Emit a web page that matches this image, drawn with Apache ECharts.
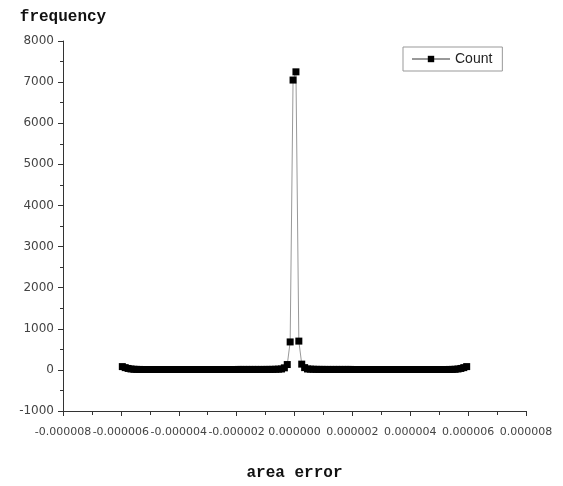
<!DOCTYPE html>
<html>
<head>
<meta charset="utf-8">
<script src="https://cdn.jsdelivr.net/npm/echarts@6/dist/echarts.min.js"></script>
<style>
  html, body { margin: 0; padding: 0; background: #fff; }
  #chart { width: 563px; height: 486px; }
</style>
</head>
<body>
<div id="chart"></div>
<script>
// bin centres of the area error histogram
var areaError = [
    -5.95e-6, -5.85e-6, -5.75e-6, -5.65e-6, -5.55e-6, -5.45e-6, -5.35e-6, -5.25e-6, -5.15e-6, -5.05e-6,
    -4.95e-6, -4.85e-6, -4.75e-6, -4.65e-6, -4.55e-6, -4.45e-6, -4.35e-6, -4.25e-6, -4.15e-6, -4.05e-6,
    -3.95e-6, -3.85e-6, -3.75e-6, -3.65e-6, -3.55e-6, -3.45e-6, -3.35e-6, -3.25e-6, -3.15e-6, -3.05e-6,
    -2.95e-6, -2.85e-6, -2.75e-6, -2.65e-6, -2.55e-6, -2.45e-6, -2.35e-6, -2.25e-6, -2.15e-6, -2.05e-6,
    -1.95e-6, -1.85e-6, -1.75e-6, -1.65e-6, -1.55e-6, -1.45e-6, -1.35e-6, -1.25e-6, -1.15e-6, -1.05e-6,
    -0.95e-6, -0.85e-6, -0.75e-6, -0.65e-6, -0.55e-6, -0.45e-6, -0.35e-6, -0.25e-6, -0.15e-6, -0.05e-6,
    0.05e-6, 0.15e-6, 0.25e-6, 0.35e-6, 0.45e-6, 0.55e-6, 0.65e-6, 0.75e-6, 0.85e-6, 0.95e-6,
    1.05e-6, 1.15e-6, 1.25e-6, 1.35e-6, 1.45e-6, 1.55e-6, 1.65e-6, 1.75e-6, 1.85e-6, 1.95e-6,
    2.05e-6, 2.15e-6, 2.25e-6, 2.35e-6, 2.45e-6, 2.55e-6, 2.65e-6, 2.75e-6, 2.85e-6, 2.95e-6,
    3.05e-6, 3.15e-6, 3.25e-6, 3.35e-6, 3.45e-6, 3.55e-6, 3.65e-6, 3.75e-6, 3.85e-6, 3.95e-6,
    4.05e-6, 4.15e-6, 4.25e-6, 4.35e-6, 4.45e-6, 4.55e-6, 4.65e-6, 4.75e-6, 4.85e-6, 4.95e-6,
    5.05e-6, 5.15e-6, 5.25e-6, 5.35e-6, 5.45e-6, 5.55e-6, 5.65e-6, 5.75e-6, 5.85e-6, 5.95e-6
];

var count = [
    80, 55, 35, 22, 15, 12, 11, 10, 10, 10,
    10, 10, 10, 10, 10, 10, 10, 10, 10, 10,
    10, 10, 10, 10, 10, 10, 10, 10, 10, 10,
    10, 10, 10, 10, 10, 10, 10, 10, 10, 10,
    11, 11, 11, 11, 11, 11, 11, 11, 11, 11,
    12, 12, 13, 15, 18, 22, 50, 130, 680, 7050,
    7250, 700, 140, 55, 22, 18, 15, 13, 12, 12,
    11, 11, 11, 11, 11, 11, 11, 11, 11, 11,
    10, 10, 10, 10, 10, 10, 10, 10, 10, 10,
    10, 10, 10, 10, 10, 10, 10, 10, 10, 10,
    10, 10, 10, 10, 10, 10, 10, 10, 10, 10,
    10, 10, 10, 11, 12, 15, 22, 35, 55, 80
];

var seriesData = [];
for (var i = 0; i < areaError.length; i++) {
    seriesData.push([areaError[i], count[i]]);
}

var axisColor = '#333';

var option = {
    animation: false,
    backgroundColor: '#fff',
    grid: {
        left: 63,
        right: 37,
        top: 41,
        bottom: 73
    },
    legend: {
        left: 403,
        top: 47,
        padding: [5, 10, 5, 8],
        itemWidth: 38,
        itemHeight: 8,
        borderColor: '#999',
        borderWidth: 1,
        data: ['Count'],
        textStyle: {
            fontFamily: 'Liberation Sans',
            fontSize: 14,
            color: '#222'
        }
    },
    xAxis: {
        type: 'value',
        min: -0.000008,
        max: 0.000008,
        interval: 0.000002,
        name: 'area error',
        nameLocation: 'middle',
        nameGap: 54,
        nameTextStyle: {
            fontFamily: 'Liberation Mono',
            fontSize: 16,
            fontWeight: 'bold',
            color: '#111'
        },
        axisLine: {
            onZero: false,
            lineStyle: { color: axisColor, width: 1 }
        },
        axisTick: {
            inside: false,
            length: 5,
            lineStyle: { color: axisColor }
        },
        minorTick: {
            show: true,
            splitNumber: 2,
            length: 4,
            lineStyle: { color: axisColor }
        },
        splitLine: { show: false },
        axisLabel: {
            fontFamily: 'DejaVu Sans',
            fontSize: 11,
            color: '#444',
            margin: 16,
            hideOverlap: false,
            formatter: function (v) {
                return v.toFixed(6);
            }
        }
    },
    yAxis: {
        type: 'value',
        min: -1000,
        max: 8000,
        interval: 1000,
        name: 'frequency',
        nameLocation: 'end',
        nameGap: 16,
        nameTextStyle: {
            fontFamily: 'Liberation Mono',
            fontSize: 16,
            fontWeight: 'bold',
            color: '#111'
        },
        axisLine: {
            show: true,
            onZero: false,
            lineStyle: { color: axisColor, width: 1 }
        },
        axisTick: {
            show: true,
            length: 5,
            lineStyle: { color: axisColor }
        },
        minorTick: {
            show: true,
            splitNumber: 2,
            length: 3,
            lineStyle: { color: axisColor }
        },
        splitLine: { show: false },
        axisLabel: {
            fontFamily: 'DejaVu Sans',
            fontSize: 12,
            color: '#444',
            margin: 9,
            formatter: function (v) {
                return String(v);
            }
        }
    },
    series: [
        {
            name: 'Count',
            type: 'line',
            data: seriesData,
            symbol: 'rect',
            symbolSize: 7,
            showAllSymbol: true,
            itemStyle: { color: '#000' },
            lineStyle: { color: '#999', width: 1 }
        }
    ]
};

var chart = echarts.init(document.getElementById('chart'));
chart.setOption(option);
</script>
</body>
</html>
